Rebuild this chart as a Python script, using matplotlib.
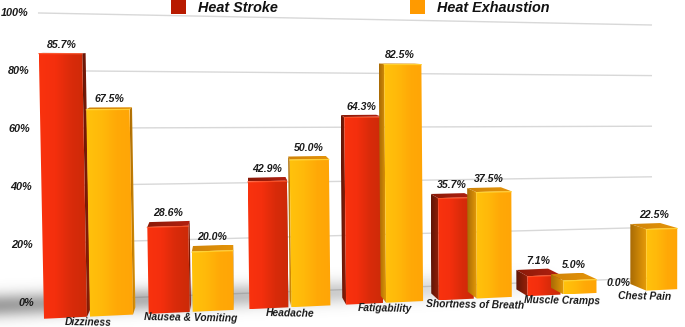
import numpy as np
import matplotlib
matplotlib.use('Agg')
import matplotlib.pyplot as plt
from matplotlib.colors import LinearSegmentedColormap
from matplotlib.patches import Polygon, Rectangle

# Data
categories = ['Dizziness', 'Nausea & Vomiting', 'Headache', 'Fatigability',
              'Shortness of Breath', 'Muscle Cramps', 'Chest Pain']
heat_stroke = [85.7, 28.6, 42.9, 64.3, 35.7, 7.1, 0.0]
heat_exhaustion = [67.5, 20.0, 50.0, 82.5, 37.5, 5.0, 22.5]
y_ticks = [0, 20, 40, 60, 80, 100]
series_names = ['Heat Stroke', 'Heat Exhaustion']

W, H = 685, 327
FONT = 'Liberation Sans'


# Perspective of the fake 3D scene, everything in image pixels
def floor_y(x):
    return 318 - 0.0467 * (x - 60)


def px_per_pct(x):
    return 3.09 - 0.0006 * (x - 60)


def lean(x, h):
    return (x - 650) * h * 3.2e-5


def group_left(i):
    return 90 + 104.7 * i - 2 * i ** 2


def bar_width(i):
    return 43 - 2 * i


def grid_y(v, t):
    return (1 - t) * (301 - 2.88 * v) + t * (278 - 2.53 * v)


def to_back(x, y):
    d = 0.04 if x > 250 else 0.02
    return x + (250 - x) * d, y + (45 - y) * 0.027


def gradient_fill(ax, verts, colors, z):
    cmap = LinearSegmentedColormap.from_list('g', colors)
    xs = [p[0] for p in verts]
    ys = [p[1] for p in verts]
    grad = np.linspace(0, 1, 64).reshape(1, -1)
    im = ax.imshow(grad, cmap=cmap, aspect='auto', zorder=z, interpolation='bilinear',
                   extent=(min(xs), max(xs), max(ys), min(ys)))
    clip = Polygon(verts, closed=True, transform=ax.transData, facecolor='none', edgecolor='none')
    ax.add_patch(clip)
    im.set_clip_path(clip)


def draw_bar(ax, xl, w, v, face, side, top, shine, z):
    xr = xl + w
    h_l = v * px_per_pct(xl)
    h_r = v * px_per_pct(xr)
    bl = (xl, floor_y(xl))
    br = (xr, floor_y(xr))
    tl = (xl + lean(xl, h_l), floor_y(xl) - h_l)
    tr = (xr + lean(xr, h_r), floor_y(xr) - h_r)
    if xl > 250:
        side_pts = [to_back(*bl), bl, tl, to_back(*tl)]
    else:
        side_pts = [br, to_back(*br), to_back(*tr), tr]
    gradient_fill(ax, side_pts, side, z)
    gradient_fill(ax, [tl, tr, to_back(*tr), to_back(*tl)], top, z + 0.1)
    gradient_fill(ax, [bl, br, tr, tl], face, z + 0.2)
    ax.plot([tl[0], tr[0]], [tl[1] + 0.5, tr[1] + 0.5], color=shine, lw=0.8, alpha=0.8, zorder=z + 0.3)
    back_top = min(to_back(*tl)[1], to_back(*tr)[1])
    back_l = to_back(*tl)[0]
    back_r = to_back(*tr)[0]
    return (min(back_l, tl[0]) + max(back_r, tr[0])) / 2, back_top


fig = plt.figure(figsize=(W / 100, H / 100), dpi=100, facecolor='white')
ax = fig.add_axes([0, 0, 1, 1])
ax.axis('off')

# gridlines behind the bars
for v in y_ticks:
    x0 = 38 + (100 - v) * 0.08
    t0 = (x0 - 40) / 612
    ax.plot([x0, 652], [grid_y(v, t0), grid_y(v, 1.0)], color='#d8d8d8', lw=1.0,
            zorder=1, solid_capstyle='butt')
    ax.text(34 - v * 0.06, 303 - 2.9 * v, f'{v}%', ha='right', va='center', fontsize=7.8,
            family=FONT, style='italic', weight='bold', color='#1a1a1a', zorder=10)

# soft floor shadow
xx, yy = np.meshgrid(np.arange(W), np.arange(H))
centre = 305 - 0.04 * xx
strength = 0.58 * np.clip(1 - xx / 560, 0, 1) ** 0.7
shadow = strength * np.exp(-((yy - centre) / 12.0) ** 2)
rgba = np.zeros((H, W, 4))
rgba[..., :3] = 0.35
rgba[..., 3] = shadow
ax.imshow(rgba, extent=(0, W, H, 0), aspect='auto', zorder=2, interpolation='bilinear')

red_face = ['#f9320e', '#f42f0d', '#d92b0a', '#cc2a08']
red_side = ['#5e1607', '#9a2008']
red_top = ['#8a1a08', '#b32010']
amber_face = ['#ffc20c', '#ffb90a', '#ffa907', '#ffa506']
amber_side = ['#a86a05', '#e59a08']
amber_top = ['#d08408', '#e59408']

for i, name in enumerate(categories):
    w = bar_width(i)
    ex_left = group_left(i)
    st_left = ex_left - w - 3

    if heat_stroke[i] > 0:
        cx, top_y = draw_bar(ax, st_left, w, heat_stroke[i], red_face, red_side, red_top, '#ff5a30', 3 + i)
    else:
        cx, top_y = st_left + w / 2 - 9, floor_y(st_left) - 1
    ax.text(cx, top_y - 8, f'{heat_stroke[i]:.1f}%', ha='center', va='center', fontsize=7.6,
            family=FONT, style='italic', weight='bold', color='#1a1a1a', zorder=20)

    cx, top_y = draw_bar(ax, ex_left, w, heat_exhaustion[i], amber_face, amber_side, amber_top, '#ffd83a', 3.5 + i)
    ax.text(cx, top_y - 8, f'{heat_exhaustion[i]:.1f}%', ha='center', va='center', fontsize=7.6,
            family=FONT, style='italic', weight='bold', color='#1a1a1a', zorder=20)

    lx = ex_left - 1.5
    ax.text(lx, floor_y(lx) + 6, name, ha='center', va='center', fontsize=7.4, rotation=-1,
            family=FONT, style='italic', weight='bold', color='#1a1a1a', zorder=20)

# legend along the top edge
for x0, color, name in zip([171, 410], ['#b81a00', '#ff9a00'], series_names):
    ax.add_patch(Rectangle((x0, 0), 15, 14, facecolor=color, edgecolor='none', zorder=15))
    ax.text(x0 + 27, 7.5, name, ha='left', va='center', fontsize=10.4, family=FONT,
            style='italic', weight='bold', color='#111111', zorder=15)

ax.set_xlim(0, W)
ax.set_ylim(H, 0)
fig.savefig('out.png', dpi=100)
